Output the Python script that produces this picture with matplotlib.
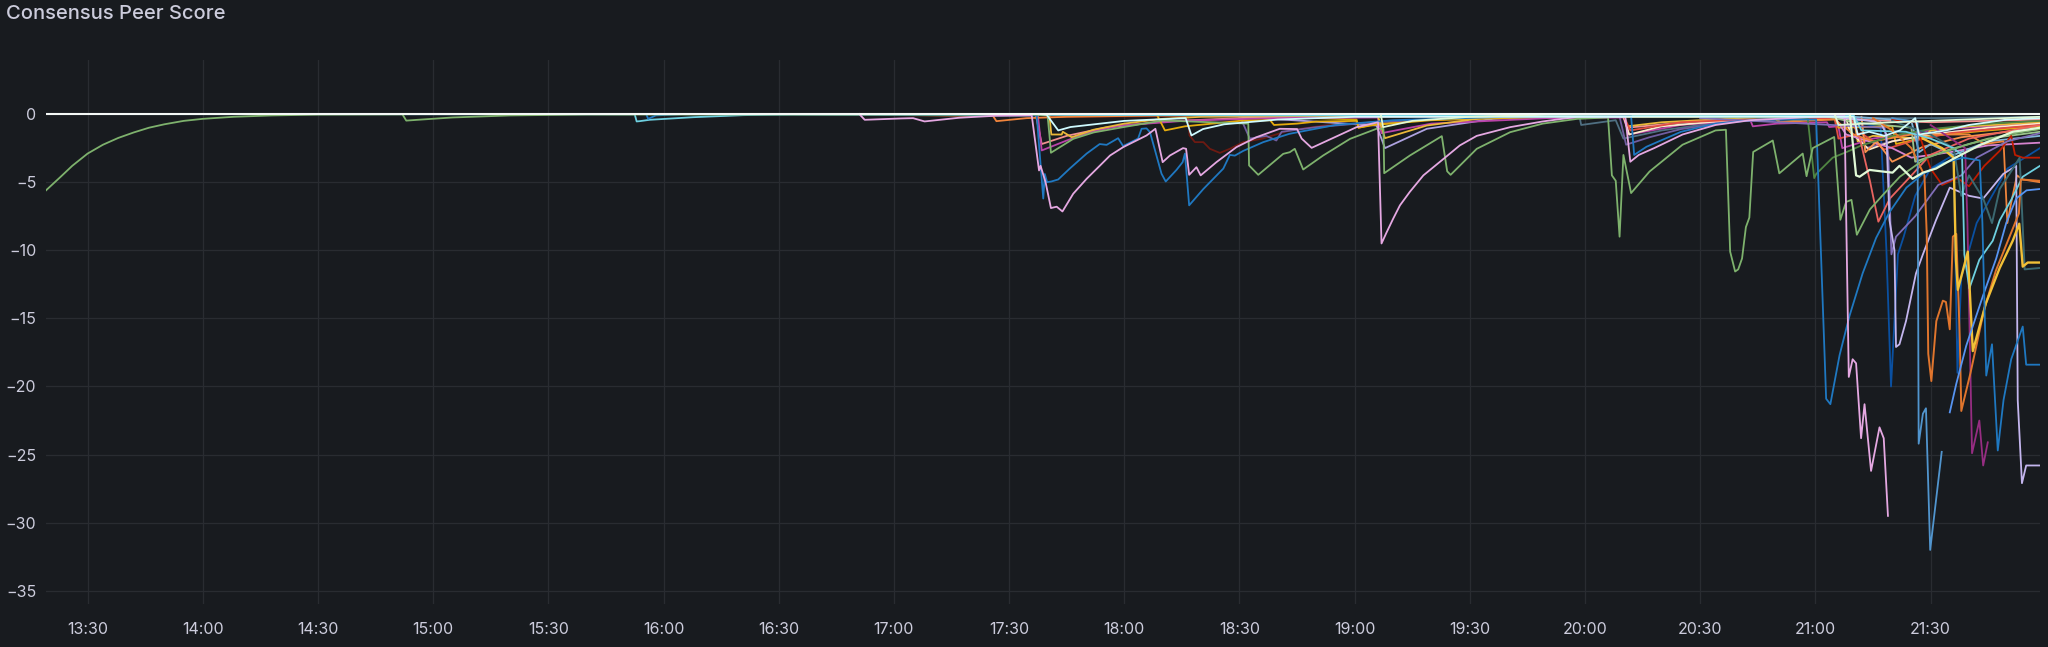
import matplotlib
matplotlib.use("Agg")
import matplotlib.pyplot as plt
import matplotlib.dates as mdates
import pandas as pd

plt.rcParams['font.family'] = ['Inter', 'DejaVu Sans']

title = "Consensus Peer Score"
day = "2024-01-01 "
x_start = "13:19:10"
x_end = "21:58:30"
y_ticks = [0, -5, -10, -15, -20, -25, -30, -35]

# (time, score) pairs
green = [("13:19:10", -5.6), ("13:23", -4.6), ("13:26", -3.8), ("13:30", -2.9), ("13:34", -2.25),
         ("13:38", -1.75), ("13:42", -1.35), ("13:46", -1.0), ("13:50", -0.75), ("13:55", -0.5),
         ("14:00", -0.35), ("14:08", -0.2), ("14:18", -0.1), ("14:30", -0.04), ("14:52", -0.02),
         ("14:53", -0.48), ("14:56", -0.42), ("15:05", -0.25), ("15:20", -0.1), ("15:40", -0.03),
         ("17:40", -0.05), ("17:40:30", -1.5), ("17:40:54", -2.84), ("17:46:42", -1.82),
         ("17:52", -1.35), ("17:59:42", -0.96), ("18:10", -0.47), ("18:32:18", -0.7),
         ("18:32:30", -3.77), ("18:34:54", -4.46), ("18:41:24", -2.92), ("18:43:06", -2.8),
         ("18:44:24", -2.55), ("18:46:36", -4.07), ("18:51:48", -3.04), ("18:58:48", -1.82),
         ("19:05:42", -1.08), ("19:07:30", -1.08), ("19:07:42", -4.34), ("19:14:24", -3.04),
         ("19:22:42", -1.62), ("19:24:06", -4.2), ("19:25", -4.46), ("19:31:48", -2.55),
         ("19:40:30", -1.33), ("19:49", -0.7), ("19:58", -0.35), ("20:06", -0.25), ("20:07", -4.5),
         ("20:08", -4.9), ("20:09", -9.0), ("20:10", -3.0), ("20:12", -5.8), ("20:16:48", -4.22),
         ("20:25:24", -2.25), ("20:34", -1.2), ("20:36:42", -1.15), ("20:37:48", -10.1),
         ("20:39:06", -11.56), ("20:39:54", -11.4), ("20:40:54", -10.6), ("20:41:54", -8.3),
         ("20:42:48", -7.6), ("20:43:48", -2.78), ("20:48:54", -1.94), ("20:50:36", -4.35),
         ("20:56:42", -2.9), ("20:57:42", -4.56), ("20:59:18", -2.5), ("21:04:54", -1.68),
         ("21:06:30", -7.76), ("21:08", -6.45), ("21:09:24", -6.3), ("21:10:48", -8.86),
         ("21:14:12", -7.0), ("21:17:42", -5.9), ("21:22", -4.6), ("21:29", -3.2), ("21:40", -2.2),
         ("21:50", -1.5), ("21:58:30", -1.1)]

pink = [("16:51", 0.0), ("16:52:24", -0.42), ("17:02", -0.32), ("17:05", -0.3), ("17:08", -0.54),
        ("17:17", -0.27), ("17:26", -0.13), ("17:35:54", -0.1), ("17:37:48", -4.14),
        ("17:38:12", -3.8), ("17:39:30", -5.0), ("17:40:54", -6.9), ("17:42:24", -6.8),
        ("17:43:54", -7.15), ("17:46:42", -5.85), ("17:50:12", -4.75), ("17:53:36", -3.8),
        ("17:56:18", -3.04), ("17:59:42", -2.43), ("18:05:48", -1.57), ("18:08:06", -1.08),
        ("18:10", -3.53), ("18:11:54", -3.04), ("18:15:18", -2.5), ("18:16:06", -2.55),
        ("18:16:54", -4.46), ("18:18:48", -3.9), ("18:19:54", -4.5), ("18:24", -3.53),
        ("18:29:12", -2.43), ("18:34:24", -1.7), ("18:40:30", -1.08), ("18:45", -1.1),
        ("18:46:12", -1.8), ("18:48:48", -2.48), ("19:00:30", -0.96), ("19:06:06", -0.6),
        ("19:07", -9.5), ("19:08:18", -8.7), ("19:10", -7.7), ("19:11:48", -6.7), ("19:14:24", -5.7),
        ("19:17:54", -4.5), ("19:23:06", -3.3), ("19:27:24", -2.3), ("19:31:48", -1.6),
        ("19:40:30", -0.96), ("19:49", -0.54), ("19:58", -0.2), ("20:10:30", -0.2),
        ("20:11:48", -3.5), ("20:14", -3.0), ("20:18", -2.5), ("20:25:24", -1.5), ("20:34", -0.8),
        ("20:43", -0.45), ("21:00", -0.2), ("21:07:36", -0.15), ("21:08:42", -19.3),
        ("21:09:42", -18.0), ("21:10:36", -18.3), ("21:11:54", -23.8), ("21:12:48", -21.3),
        ("21:14:30", -26.2), ("21:16:42", -23.0), ("21:17:48", -23.8), ("21:18:54", -29.5)]

blue = [("13:19:10", 0.0), ("15:55:30", 0.0), ("15:56", -0.35), ("15:58", -0.1), ("16:05", 0.0),
        ("17:37:12", -0.1), ("17:38:54", -6.2), ("17:39:18", -4.4), ("17:39:54", -5.0),
        ("17:41", -4.95), ("17:42:48", -4.8), ("17:45:48", -4.0), ("17:50:12", -2.9),
        ("17:53:36", -2.2), ("17:55:24", -2.26), ("17:58:24", -1.77), ("17:59:42", -2.35),
        ("18:03:36", -1.8), ("18:04:30", -1.08), ("18:05:48", -1.05), ("18:06:42", -1.33),
        ("18:09:42", -4.38), ("18:10:48", -4.95), ("18:13:36", -4.1), ("18:15:12", -3.53),
        ("18:15:48", -2.9), ("18:16:54", -6.7), ("18:20:36", -5.5), ("18:25:48", -4.0),
        ("18:27:30", -3.0), ("18:28:48", -3.05), ("18:31", -2.7), ("18:36:12", -2.06),
        ("18:43", -1.45), ("18:55", -0.8), ("19:10", -0.45), ("19:40", -0.2), ("20:12", -0.15),
        ("20:12:48", -3.0), ("20:16", -2.4), ("20:25", -1.3), ("20:34", -0.7), ("20:45", -0.4),
        ("21:00:12", -0.4), ("21:01:30", -10.6), ("21:02:48", -20.9), ("21:03:54", -21.3),
        ("21:06:18", -17.7), ("21:08:54", -14.8), ("21:12:18", -11.7), ("21:15:48", -9.1),
        ("21:19:18", -7.2), ("21:23:42", -5.4), ("21:28", -4.4), ("21:33:12", -3.6),
        ("21:38:24", -3.2), ("21:42:48", -3.4), ("21:43:30", -8.0), ("21:44:30", -19.2),
        ("21:46", -16.9), ("21:47:30", -24.7), ("21:49", -21.0), ("21:51", -18.0), ("21:54", -15.6),
        ("21:54:54", -18.4), ("21:58:30", -18.4)]

blue_deep = [("21:20", -0.3), ("21:26:36", -0.6), ("21:26:54", -24.2), ("21:28", -22.0),
             ("21:28:48", -21.6), ("21:29:54", -32.0), ("21:32:54", -24.8)]

blue_rise = [("21:35", -21.9), ("21:36:42", -19.8), ("21:39:18", -17.0), ("21:43:42", -13.3),
             ("21:47:06", -10.6), ("21:49:42", -8.0), ("21:52:18", -6.2), ("21:55", -5.6),
             ("21:58:30", -5.5)]

cyan = [("13:19:10", 0.0), ("15:52:30", -0.02), ("15:53", -0.54), ("15:53:48", -0.52),
        ("15:56:24", -0.42), ("16:07:42", -0.23), ("16:20:42", -0.08), ("16:33:48", -0.02),
        ("18:40", -0.1), ("21:10", -0.1), ("21:12", -1.2), ("21:23:36", -1.3), ("21:30", -1.8),
        ("21:36", -2.5), ("21:38:12", -3.0), ("21:38:48", -10.3), ("21:40:06", -12.8),
        ("21:42:42", -10.7), ("21:46:12", -9.3), ("21:48", -7.8), ("21:51", -6.3), ("21:54", -4.6),
        ("21:58:30", -3.8)]

orange = [("21:15", -0.3), ("21:20", -1.2), ("21:25", -2.5), ("21:28:24", -4.5), ("21:29", -8.8),
          ("21:29:24", -17.6), ("21:30:12", -19.6), ("21:31:30", -15.2), ("21:33:12", -13.7),
          ("21:34", -13.8), ("21:35", -15.8), ("21:35:48", -9.0), ("21:36:42", -8.8),
          ("21:37:36", -16.4), ("21:38", -21.8), ("21:40:24", -19.0), ("21:44", -14.3),
          ("21:47", -11.5), ("21:50", -9.4), ("21:53", -7.3), ("21:53:30", -4.8), ("21:58:30", -4.9)]

orange2 = [("16:30", 0.0), ("17:25:48", -0.13), ("17:26:42", -0.52), ("17:34:30", -0.3),
           ("17:45", -0.2), ("18:10", -0.1), ("20:50", -0.1), ("20:50:36", -0.6), ("20:57", -0.5),
           ("21:05", -0.4), ("21:10", -1.5), ("21:15", -2.0), ("21:25", -1.5), ("21:40", -1.5),
           ("21:44", -2.2), ("21:49", -2.0), ("21:50", -8.0), ("21:51", -6.5), ("21:52:30", -4.5),
           ("21:54", -4.8), ("21:58:30", -5.0)]

yellow_big = [("21:28", -1.8), ("21:33", -2.5), ("21:36", -3.2), ("21:36:36", -10.7),
              ("21:37:06", -12.9), ("21:39:42", -10.1), ("21:41", -17.4), ("21:44:24", -13.9),
              ("21:48", -11.3), ("21:51:24", -9.3), ("21:53:06", -8.05), ("21:54", -11.2),
              ("21:55:18", -10.9), ("21:58:30", -10.9)]

teal = [("21:20", -0.5), ("21:30", -1.5), ("21:36", -2.5), ("21:38", -6.0), ("21:40", -4.5),
        ("21:43:42", -6.2), ("21:46", -8.0), ("21:48", -5.5), ("21:51", -4.2), ("21:53:12", -3.2),
        ("21:54:30", -11.4), ("21:58:30", -11.3)]

magenta = [("21:30", -0.8), ("21:39", -2.5), ("21:39:36", -8.0), ("21:40:48", -24.9),
           ("21:42:42", -22.5), ("21:43:42", -25.8), ("21:44:54", -24.1)]

lavender = [("21:05", -0.2), ("21:17", -0.6), ("21:18:30", -1.5), ("21:19:18", -7.8),
            ("21:20:36", -10.0), ("21:21", -17.1), ("21:21:54", -16.9), ("21:23:36", -15.2),
            ("21:26:12", -11.7), ("21:28", -10.3), ("21:31:24", -7.8), ("21:35", -5.4),
            ("21:40", -6.0), ("21:43:42", -6.2), ("21:48:54", -4.4), ("21:52:18", -3.8),
            ("21:52:42", -21.0), ("21:53:48", -27.1), ("21:54:54", -25.8), ("21:58:30", -25.8)]

purple = [("20:30", -0.3), ("21:18", -1.0), ("21:19", -3.0), ("21:19:48", -10.3), ("21:21", -9.0),
          ("21:26", -7.5), ("21:32", -5.2), ("21:38", -4.5), ("21:42", -3.2), ("21:50", -2.0),
          ("21:58:30", -1.4)]

navy = [("21:10", -0.5), ("21:17", -1.0), ("21:18:30", -10.0), ("21:19:42", -20.0),
        ("21:21:30", -10.3), ("21:23", -9.0), ("21:26", -6.0), ("21:30", -4.0), ("21:36", -3.0),
        ("21:37", -19.0), ("21:38", -12.0), ("21:42", -8.0), ("21:50", -4.0), ("21:58:30", -2.5)]

salmon = [("21:09", -0.2), ("21:11:30", -1.7), ("21:14:12", -4.9), ("21:16:24", -7.9),
          ("21:19:24", -6.2), ("21:24:42", -4.6), ("21:29:54", -3.0), ("21:40", -1.8),
          ("21:58:30", -0.8)]

darkred = [("21:20", -0.4), ("21:26", -0.6), ("21:30", -4.0), ("21:33", -5.2), ("21:37", -4.7),
           ("21:40", -5.3), ("21:44", -3.8), ("21:48", -2.7), ("21:51", -1.6), ("21:52", -3.0),
           ("21:54", -3.2), ("21:58:30", -3.2)]

maroon = [("17:40", -0.2), ("18:16:30", -0.15), ("18:17", -1.57), ("18:18:24", -2.06),
          ("18:20:36", -2.06), ("18:22:18", -2.55), ("18:24:54", -2.85), ("18:27:30", -2.55),
          ("18:31", -2.06), ("18:36", -1.8), ("18:43", -1.2), ("18:52", -0.84), ("19:10", -0.5),
          ("19:40", -0.3), ("20:10", -0.2), ("21:00", -0.15)]

darkgreen = [("20:30", -0.2), ("20:58", -0.3), ("20:59:42", -4.7), ("21:00:12", -4.4),
             ("21:04:30", -3.2), ("21:08", -2.8), ("21:12", -2.3), ("21:20", -1.6), ("21:30", -1.1),
             ("21:45", -0.7), ("21:58:30", -0.5)]

white_big = [("21:09", -0.1), ("21:10:36", -4.5), ("21:11:30", -4.6), ("21:14:06", -4.1),
             ("21:17", -4.2), ("21:20:06", -4.3), ("21:21:54", -3.8), ("21:25:18", -4.75),
             ("21:28", -4.3), ("21:31:24", -4.0), ("21:35:48", -3.3), ("21:42:42", -2.3),
             ("21:51:24", -1.3), ("21:58:30", -1.0)]

white2 = [("17:38", 0.0), ("17:39:48", -0.05), ("17:42:48", -1.2), ("17:46", -0.95), ("18:00", -0.5),
          ("18:16", -0.3), ("18:17:30", -1.57), ("18:20:30", -1.1), ("18:26", -0.75), ("18:40", -0.4),
          ("19:00", -0.2), ("21:10", -0.2), ("21:11", -1.5), ("21:14", -1.3), ("21:18", -1.6),
          ("21:22", -1.2), ("21:26", -0.3), ("21:27", -1.5), ("21:34", -1.2), ("21:40", -0.8),
          ("21:50", -0.4), ("21:58:30", -0.3)]

white3 = [("13:19:10", 0.0), ("19:06:48", 0.0), ("19:07:24", -0.96), ("19:15", -0.5),
          ("19:30", -0.2), ("19:50", -0.05), ("21:05", 0.0), ("21:06", -0.8), ("21:20", -0.6),
          ("21:58:30", -0.2)]

yellow = [("17:30", 0.0), ("17:40:30", -0.1), ("17:41", -1.5), ("17:43:42", -1.5), ("17:44", -1.3),
          ("17:46:18", -1.7), ("17:52", -1.15), ("18:00", -0.7), ("18:10", -0.35), ("18:20", -0.2),
          ("19:06", -0.1), ("19:07:54", -1.77), ("19:18:48", -0.84), ("19:36", -0.2), ("20:10", -0.1),
          ("20:11", -0.9), ("20:20", -0.6), ("20:40", -0.3), ("21:10", -0.2), ("21:11", -2.0),
          ("21:15", -1.6), ("21:28", -1.8), ("21:30", -1.2), ("21:40", -0.9), ("21:58:30", -0.6)]

yellow2 = [("17:30", 0.0), ("18:08:30", -0.05), ("18:10:36", -1.2), ("18:15:48", -0.9),
           ("18:30", -0.5), ("18:38", -0.45), ("18:39", -0.8), ("18:45", -0.7), ("18:50", -0.55),
           ("19:00:30", -0.5), ("19:01", -1.0), ("19:05", -0.8), ("19:20", -0.45), ("19:50", -0.2),
           ("20:49", -0.2), ("20:50:36", -0.6), ("20:58", -0.4), ("21:05", -0.35), ("21:06", -1.0),
           ("21:20", -0.9), ("21:21", -2.2), ("21:30", -1.6), ("21:45", -1.2), ("21:58:30", -0.9)]

magenta2 = [("17:30", 0.0), ("17:37:30", -0.1), ("17:38:30", -2.67), ("17:45", -1.94),
            ("17:51", -1.33), ("17:59", -0.84), ("18:17", -0.47), ("18:40", -0.3), ("19:06", -0.25),
            ("19:07", -1.4), ("19:20", -0.7), ("19:50", -0.3), ("20:10", -0.25), ("20:11:30", -1.5),
            ("20:25", -0.8), ("20:43", -0.4), ("20:43:42", -0.9), ("20:50", -0.7), ("21:03", -0.6),
            ("21:03:36", -0.95), ("21:06", -0.9), ("21:07", -2.5), ("21:15", -1.8), ("21:30", -1.2),
            ("21:58:30", -0.6)]

purple2 = [("18:30", -0.1), ("18:32:42", -1.8), ("18:37", -1.6), ("18:39:36", -1.94),
           ("18:41", -1.3), ("18:50", -0.96), ("19:05", -0.6), ("19:30", -0.3), ("20:09", -0.2),
           ("20:10:42", -2.25), ("20:16:48", -1.7), ("20:25", -1.1), ("20:40", -0.5), ("21:00", -0.3),
           ("21:12", -0.3), ("21:13", -2.5), ("21:20", -2.0), ("21:35", -1.3), ("21:58:30", -0.7)]

lavender2 = [("18:30", -0.2), ("19:05:42", -0.84), ("19:07:54", -2.5), ("19:18:48", -1.08),
             ("19:36", -0.35), ("19:53", -0.1), ("20:30", -0.05)]

darkyellow = [("18:50", -0.3), ("19:00:30", -0.4), ("19:01", -1.0), ("19:05", -0.75),
              ("19:07", -0.7), ("19:20", -0.4), ("19:50", -0.15), ("20:30", -0.1)]

slate = [("19:50", -0.1), ("19:58:30", -0.1), ("19:59", -0.8), ("20:08", -0.45), ("20:10", -1.8),
         ("20:20", -1.2), ("20:35", -0.6), ("21:00", -0.3), ("21:30", -0.3), ("21:58:30", -0.2)]

cream = [("20:10", -0.1), ("20:11:30", -1.5), ("20:20", -0.9), ("20:40", -0.4), ("21:08", -0.3),
         ("21:09", -1.3), ("21:14", -2.6), ("21:20", -2.0), ("21:30", -1.5), ("21:45", -1.0),
         ("21:58:30", -0.7)]

red = [("20:10", -0.1), ("20:11:48", -1.2), ("20:25", -0.6), ("20:50", -0.3), ("21:05", -0.3),
       ("21:06", -1.8), ("21:12", -1.4), ("21:18", -2.6), ("21:25", -2.0), ("21:35", -1.4),
       ("21:50", -1.0), ("21:58:30", -0.8)]

pink2 = [("21:05", -0.2), ("21:08", -1.5), ("21:20", -2.5), ("21:25", -3.2), ("21:35", -2.8),
         ("21:45", -2.3), ("21:58:30", -2.1)]

peach = [("21:12", -0.2), ("21:13", -2.8), ("21:16", -2.0), ("21:20", -3.5), ("21:28", -2.4),
         ("21:38", -1.7), ("21:50", -1.3), ("21:58:30", -1.1)]

mint = [("21:00", 0.0), ("21:10", -0.6), ("21:25", -1.0), ("21:26", -3.5), ("21:35", -2.6),
        ("21:45", -1.8), ("21:58:30", -1.3)]

sky = [("21:10", -0.2), ("21:25", -0.5), ("21:27", -2.8), ("21:30", -2.2), ("21:36", -3.0),
       ("21:45", -2.0), ("21:58:30", -1.6)]

rose = [("17:37", -0.1), ("17:38:30", -2.2), ("17:45", -1.6), ("17:55", -1.0), ("18:10", -0.55),
        ("18:30", -0.3), ("19:00", -0.2), ("20:10", -0.15), ("20:11", -1.0), ("20:30", -0.5),
        ("21:00", -0.3), ("21:30", -0.6), ("21:58:30", -0.4)]

baseline = [("13:19:10", 0.0), ("21:58:30", 0.0)]

series = [
    (maroon, "#6d1a12", 1.3), (navy, "#0A50A1", 1.3), (slate, "#4F6F82", 1.3),
    (darkyellow, "#CCA300", 1.3), (lavender2, "#AEA2E0", 1.3), (purple2, "#705DA0", 1.3),
    (rose, "#F29191", 1.3), (magenta2, "#BA43A9", 1.3), (yellow2, "#E5AC0E", 1.3),
    (yellow, "#EAB839", 1.3), (cream, "#FCEACA", 1.3), (red, "#E24D42", 1.3),
    (pink2, "#D683CE", 1.3), (peach, "#F9934E", 1.3), (mint, "#9AC48A", 1.3), (sky, "#82B5D8", 1.3),
    (orange2, "#EF843C", 1.3), (darkgreen, "#508642", 1.3), (salmon, "#EA6460", 1.3),
    (darkred, "#BF1B00", 1.3), (purple, "#806EB7", 1.3), (lavender, "#C4B6EE", 1.3),
    (teal, "#3B6870", 1.4), (magenta, "#962D82", 1.3), (cyan, "#6ED0E0", 1.3),
    (orange, "#E0752D", 1.4), (yellow_big, "#F2C037", 1.7), (blue_rise, "#5794F2", 1.3),
    (blue_deep, "#5195CE", 1.3), (blue, "#1F78C1", 1.3), (green, "#7EB26D", 1.3),
    (pink, "#E5A8E2", 1.3), (white2, "#CFFAFF", 1.3), (white_big, "#E0F9D7", 1.6),
    (white3, "#E0F9D7", 1.3), (baseline, "#F4F8F6", 1.5),
]


def to_times(points):
    stamps = [t if t.count(":") == 2 else t + ":00" for t, _ in points]
    return pd.to_datetime([day + s for s in stamps], format="%Y-%m-%d %H:%M:%S")


bg = "#181b1f"
text = "#ccccdc"
fig = plt.figure(figsize=(20.48, 6.47), dpi=100, facecolor=bg)
ax = fig.add_axes([46 / 2048, 42.6 / 647, 1994 / 2048, 544.8 / 647], facecolor=bg)

for points, color, lw in series:
    ax.plot(to_times(points), [v for _, v in points], color=color, lw=lw)

ax.set_xlim(pd.Timestamp(day + x_start), pd.Timestamp(day + x_end))
ax.set_ylim(-36, 4)
ax.set_yticks(y_ticks)
ax.xaxis.set_major_locator(mdates.MinuteLocator(byminute=[0, 30]))
ax.xaxis.set_major_formatter(mdates.DateFormatter("%H:%M"))
ax.grid(True, color="#292c31", lw=0.9)
ax.set_axisbelow(True)
for s in ax.spines.values():
    s.set_visible(False)
ax.tick_params(axis="both", length=0, colors=text, labelsize=11.5)
ax.tick_params(axis="x", pad=13)
ax.tick_params(axis="y", pad=7)

fig.text(6 / 2048, 1 - 14 / 647, title, color=text, fontsize=14.5, fontweight="medium",
         ha="left", va="center")

fig.savefig("out.png", dpi=100, facecolor=bg)
